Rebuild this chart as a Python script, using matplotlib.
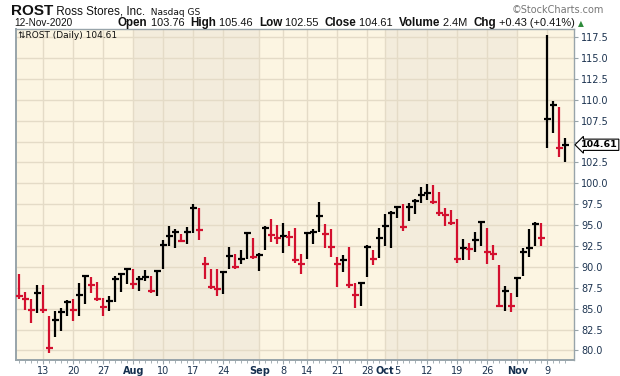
import numpy as np
import pandas as pd
import matplotlib
matplotlib.use("Agg")
import matplotlib.pyplot as plt

# ---------------- data ----------------
highs = [89.2, 87.0, 86.2, 87.8, 87.8, 84.1, 84.7, 85.1, 86.0, 86.1,
         88.1, 89.0, 88.8, 88.2, 86.3, 86.5, 88.9, 89.2, 89.8, 89.7,
         88.85, 89.6, 88.85, 89.6, 93.2, 94.9, 94.5, 93.9, 94.8, 97.5,
         97.0, 91.2, 89.7, 89.8, 89.5, 92.4, 91.6, 92.0, 94.0, 93.5,
         91.7, 94.9, 95.7, 95.0, 95.3, 94.3, 94.6, 91.5, 94.1, 94.5,
         97.8, 95.1, 94.5, 91.2, 91.4, 92.4, 88.1, 88.2, 92.6, 92.0,
         94.6, 96.3, 96.7, 97.3, 97.5, 97.7, 98.1, 99.6, 99.9, 99.8,
         99.0, 97.0, 96.8, 95.7, 93.3, 92.9, 94.2, 95.5, 94.7, 92.6,
         90.2, 87.7, 86.9, 88.8, 92.3, 94.5, 95.4, 95.2, 117.7, 109.8,
         109.1, 105.46]
lows = [86.2, 84.8, 83.3, 84.5, 84.5, 79.7, 81.6, 82.3, 84.1, 83.5,
        84.1, 85.5, 86.9, 85.9, 84.1, 84.7, 85.8, 87.0, 87.9, 87.3,
        87.1, 88.3, 86.9, 86.5, 89.8, 92.5, 92.2, 93.0, 92.7, 94.1,
        93.2, 88.6, 87.3, 86.5, 86.7, 89.7, 89.8, 90.3, 90.9, 91.0,
        89.5, 92.0, 93.0, 92.7, 91.7, 92.5, 90.5, 89.1, 90.9, 92.7,
        94.2, 92.2, 91.2, 87.6, 89.4, 87.5, 85.1, 85.3, 88.8, 90.2,
        91.1, 92.5, 92.2, 95.9, 94.3, 95.5, 96.3, 97.6, 98.0, 97.5,
        96.1, 94.9, 95.0, 90.5, 90.8, 90.8, 91.8, 92.5, 90.3, 90.8,
        85.3, 84.7, 84.6, 86.4, 88.9, 91.2, 92.5, 92.5, 104.2, 106.05,
        103.2, 102.55]
closes = [86.5, 86.1, 84.8, 86.9, 84.9, 80.3, 83.7, 84.6, 85.8, 84.8,
          86.6, 88.9, 87.8, 86.2, 85.2, 85.9, 88.6, 89.1, 89.7, 88.0,
          88.5, 88.8, 87.1, 89.5, 92.6, 93.7, 94.2, 93.1, 94.2, 97.1,
          94.4, 90.3, 87.6, 87.4, 89.4, 91.3, 90.0, 90.9, 94.0, 91.2,
          91.4, 94.7, 93.8, 93.5, 93.7, 93.6, 90.8, 90.3, 94.0, 94.2,
          96.1, 93.9, 92.4, 90.4, 90.8, 87.8, 86.6, 88.1, 92.4, 91.0,
          93.5, 94.9, 96.4, 97.2, 94.8, 97.2, 97.9, 98.6, 98.8, 97.8,
          96.4, 96.2, 95.3, 91.0, 92.2, 92.1, 93.2, 95.4, 91.8, 91.5,
          85.3, 87.1, 85.3, 88.7, 91.8, 92.3, 95.1, 93.4, 107.7, 109.4,
          104.18, 104.61]

dates = pd.bdate_range("2020-07-07", "2020-11-12")
dates = dates[dates != pd.Timestamp("2020-09-07")]  # Labor Day

tick_dates = ["2020-07-13", "2020-07-20", "2020-07-27", "2020-08-03", "2020-08-10",
              "2020-08-17", "2020-08-24", "2020-09-01", "2020-09-08", "2020-09-14",
              "2020-09-21", "2020-09-28", "2020-10-01", "2020-10-05", "2020-10-12",
              "2020-10-19", "2020-10-26", "2020-11-02", "2020-11-09"]
tick_labels = ["13", "20", "27", "Aug", "10", "17", "24", "Sep", "8", "14",
               "21", "28", "Oct", "5", "12", "19", "26", "Nov", "9"]
month_starts = ["2020-08-03", "2020-09-01", "2020-10-01", "2020-11-02"]

y_ticks = [80.0, 82.5, 85.0, 87.5, 90.0, 92.5, 95.0, 97.5, 100.0,
           102.5, 105.0, 107.5, 110.0, 112.5, 115.0, 117.5]

# ---------------- style ----------------
head_font = "Liberation Sans"

W, H = 620, 376
fig = plt.figure(figsize=(W / 100, H / 100), dpi=100)
fig.patch.set_facecolor("white")

L, R, T, B = 16, 574, 29, 360
ax = fig.add_axes([L / W, 1 - B / H, (R - L) / W, (B - T) / H])

LIGHT = "#FCF5E2"
DARK = "#F3ECDC"
GRID = "#E4DBC7"
RED = "#D3102F"
BLACK = "#000000"
AXC = "#98A4AA"
TXT = "#1C3350"

n = len(closes)
x = np.arange(n)
idx = {d.strftime("%Y-%m-%d"): i for i, d in enumerate(dates)}

xmin, xmax = -0.55, 92.45
ax.set_xlim(xmin, xmax)
ax.set_ylim(78.86, 118.46)
ax.set_facecolor(LIGHT)

# month shading
bounds = [xmin] + [idx[m] for m in month_starts] + [xmax]
for k in range(len(bounds) - 1):
    ax.axvspan(bounds[k], bounds[k + 1], color=(LIGHT if k % 2 == 0 else DARK),
               lw=0, zorder=0)

# grid
tick_pos = [idx[d] for d in tick_dates]
for tp in tick_pos:
    ax.axvline(tp, color=GRID, lw=1.0, zorder=1)
for yt in y_ticks:
    ax.axhline(yt, color=GRID, lw=1.0, zorder=1)

# bars
colors = [RED] + [BLACK if closes[i] >= closes[i - 1] else RED for i in range(1, n)]
ax.vlines(x, lows, highs, colors=colors, lw=1.6, zorder=3)
ax.hlines(closes, x - 0.55, x + 0.55, colors=colors, lw=1.6, zorder=3)

# axes
last = closes[-1]
ax.yaxis.tick_right()
ax.set_yticks(y_ticks)
# the tick label hidden behind the last-price tag is left blank
ax.set_yticklabels(["" if abs(v - last) < 1.2 else f"{v:.1f}" for v in y_ticks])
ax.tick_params(axis="y", which="major", length=3, width=0.8, color=AXC,
               labelsize=7, labelcolor=TXT, pad=2)
ax.set_xticks(tick_pos)
ax.set_xticklabels(tick_labels)
ax.set_xticks(x, minor=True)
ax.tick_params(axis="x", which="major", length=3, width=0.8, color=AXC,
               labelsize=7, labelcolor=TXT, pad=1)
ax.tick_params(axis="x", which="minor", length=2, width=0.6, color=AXC)
for lab, txt in zip(ax.get_xticklabels(), tick_labels):
    if not txt.isdigit():
        lab.set_fontweight("bold")
        lab.set_color("#16304F")
for s in ax.spines.values():
    s.set_color(AXC)
    s.set_linewidth(1.0)
ax.spines["left"].set_linewidth(1.4)
ax.spines["bottom"].set_linewidth(1.4)

# in-chart legend
ax.text(0.004, 0.995, "⇅ROST (Daily) 104.61", transform=ax.transAxes,
        fontsize=6.5, va="top", ha="left", color="#111111")

# last price tag
ax.annotate(f"{last:.2f}", xy=(1.0, last), xycoords=("axes fraction", "data"),
            xytext=(5, 0), textcoords="offset points", fontsize=6.8, fontweight="bold",
            va="center", ha="left", color="black", annotation_clip=False, zorder=10,
            bbox=dict(boxstyle="larrow,pad=0.12", fc="white", ec="black", lw=0.8))

# header
fig.canvas.draw()
r = fig.canvas.get_renderer()


def seq(cx, py, items):
    for s, kw in items:
        t = fig.text(cx / W, 1 - py / H, s, va="baseline", color="#111111", **kw)
        cx += t.get_window_extent(renderer=r).width
    return cx


seq(11, 15, [("ROST", dict(fontsize=11, fontweight="bold", family=head_font)),
             (" Ross Stores, Inc.", dict(fontsize=8.4, family=head_font)),
             ("  Nasdaq GS", dict(fontsize=6.5, family="DejaVu Sans"))])
fig.text(604 / W, 1 - 13 / H, "©StockCharts.com", fontsize=7, family="DejaVu Sans",
         color="#777777", va="baseline", ha="right")
fig.text(14 / W, 1 - 26 / H, "12-Nov-2020", fontsize=7.2, family=head_font,
         color="#111111", va="baseline")

B_ = dict(fontsize=8.4, fontweight="bold", family=head_font)
N_ = dict(fontsize=7.9, family=head_font)
cx = seq(118, 26, [("Open", B_), (" 103.76  ", N_), ("High", B_), (" 105.46  ", N_),
                   ("Low", B_), (" 102.55  ", N_), ("Close", B_), (" 104.61  ", N_),
                   ("Volume", B_), (" 2.4M  ", N_), ("Chg", B_), (" +0.43 (+0.41%)", N_)])
fig.text((cx + 3) / W, 1 - 26 / H, "▲", fontsize=5.5, color="#2E8B3A", va="baseline",
         family="DejaVu Sans")

fig.savefig("out.png", dpi=100)
